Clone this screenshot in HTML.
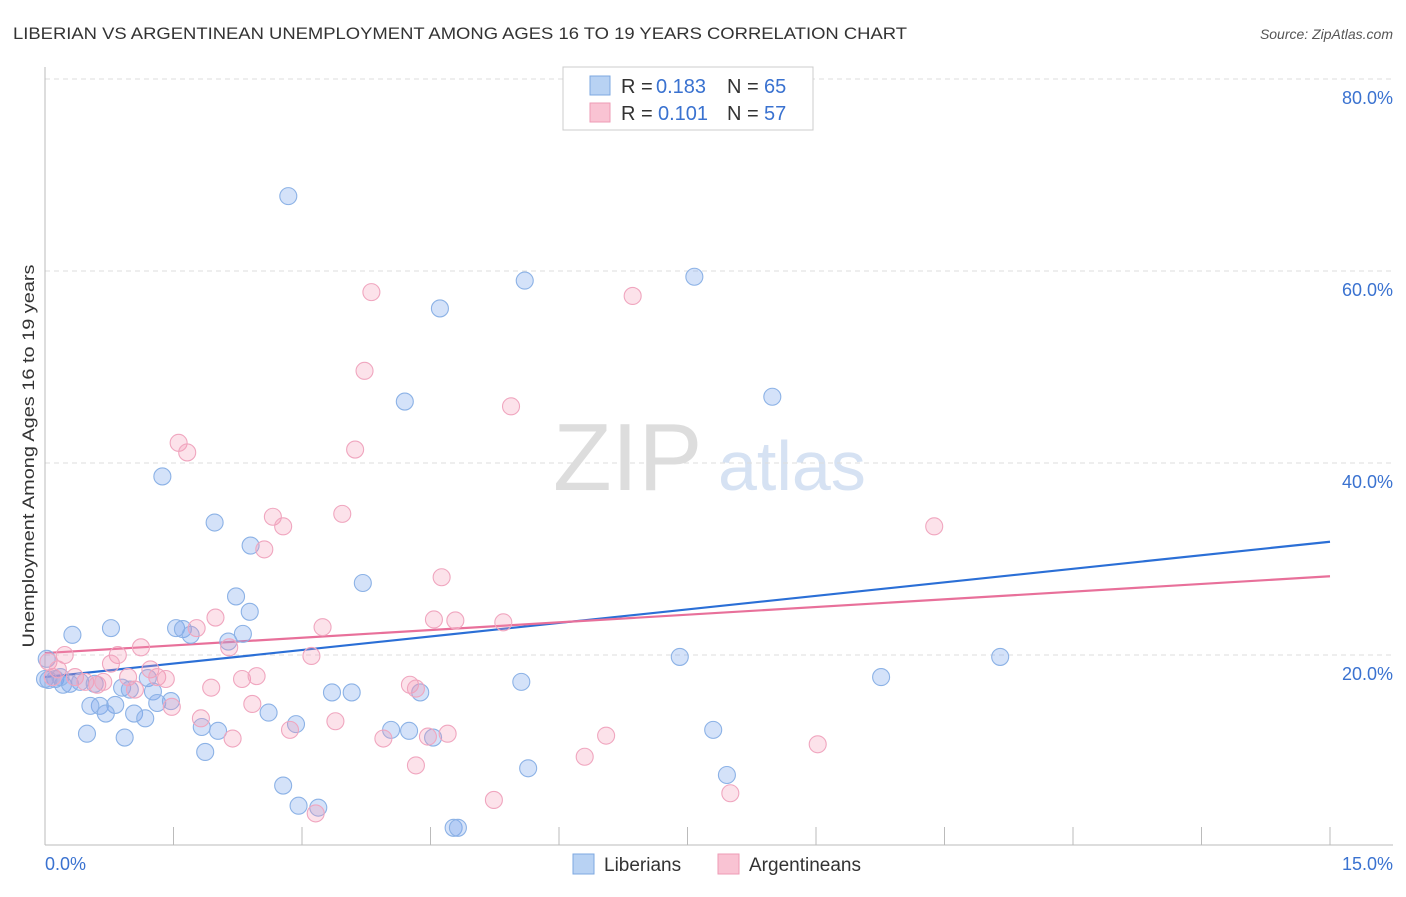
<!DOCTYPE html>
<html><head><meta charset="utf-8"><style>
body{margin:0;background:#fff;font-family:"Liberation Sans",sans-serif;}
svg text{font-family:"Liberation Sans",sans-serif;}
</style></head><body>
<svg id="chart" width="1406" height="892" xmlns="http://www.w3.org/2000/svg">
<text x="13" y="39" font-size="17" fill="#333" textLength="894" lengthAdjust="spacingAndGlyphs">LIBERIAN VS ARGENTINEAN UNEMPLOYMENT AMONG AGES 16 TO 19 YEARS CORRELATION CHART</text>
<text x="1393" y="39" font-size="14" fill="#555" text-anchor="end" font-style="italic">Source: ZipAtlas.com</text>
<text x="553" y="490" font-size="96" fill="#ddd" font-family="Liberation Serif">ZIP</text>
<text x="718" y="490" font-size="70" fill="#d6e2f3">atlas</text>
<g id="grid"></g>
<g id="axes"></g>
<g id="lines"></g>
<g id="pts"></g>
<text transform="translate(34,456) rotate(-90)" font-size="17" fill="#333" text-anchor="middle" textLength="383" lengthAdjust="spacingAndGlyphs">Unemployment Among Ages 16 to 19 years</text>
<g>
<rect x="563" y="67" width="250" height="63" fill="#fff" stroke="#ccc"/>
<rect x="590" y="76" width="20" height="19" fill="#b8d2f3" stroke="#7ea8e0"/>
<rect x="590" y="103" width="20" height="19" fill="#f9c3d3" stroke="#ee9bb6"/>
<text x="621" y="93" font-size="20" fill="#333">R =</text><text x="656" y="93" font-size="20" fill="#3a72d0">0.183</text>
<text x="727" y="93" font-size="20" fill="#333">N =</text><text x="764" y="93" font-size="20" fill="#3a72d0">65</text>
<text x="621" y="120" font-size="20" fill="#333">R =</text><text x="658" y="120" font-size="20" fill="#3a72d0">0.101</text>
<text x="727" y="120" font-size="20" fill="#333">N =</text><text x="764" y="120" font-size="20" fill="#3a72d0">57</text>
</g>
<g>
<rect x="573" y="854" width="21" height="20" fill="#b8d2f3" stroke="#7ea8e0"/>
<text x="604" y="871" font-size="19" fill="#333">Liberians</text>
<rect x="718" y="854" width="21" height="20" fill="#f9c3d3" stroke="#ee9bb6"/>
<text x="749" y="871" font-size="19" fill="#333">Argentineans</text>
</g>
</svg>
<script>
const xTicks=[0,1.5,3,4.5,6,7.5,9,10.5,12,13.5,15];
const yTicks=[20,40,60,80];
const yTickLabels=["20.0%","40.0%","60.0%","80.0%"];
const libX=[2.84,5.6,7.58,4.61,4.2,8.49,1.37,1.98,2.4,2.23,2.39,3.71,0.32,0.77,1.53,1.61,1.7,2.14,2.31,7.41,11.15,9.76,5.56,3.35,3.58,4.38,0.02,0.12,0.21,0.41,0.58,0.9,0.99,1.2,1.26,1.31,1.47,0.64,0.53,0.82,0.71,1.04,1.17,0.49,0.93,1.83,2.02,2.61,2.93,4.04,4.25,4.53,7.8,1.87,2.78,2.96,3.19,5.64,7.96,4.77,4.82,0.0,0.29,0.18,0.04];
const libY=[67.8,59.0,59.4,56.1,46.4,46.9,38.6,33.8,31.4,26.1,24.5,27.5,22.1,22.8,22.8,22.7,22.1,21.4,22.2,19.8,19.8,17.7,17.2,16.1,16.1,16.1,19.6,17.5,16.9,17.2,17.0,16.6,16.4,17.6,16.2,15.0,15.2,14.7,14.7,14.8,13.9,13.9,13.4,11.8,11.4,12.5,12.1,14.0,12.8,12.2,12.1,11.4,12.2,9.9,6.4,4.3,4.1,8.2,7.5,2.0,2.0,17.5,17.0,17.7,17.4];
const argX=[3.81,6.86,3.73,5.44,1.56,1.66,3.62,3.47,2.66,2.78,2.56,10.38,4.63,1.99,4.54,4.79,5.35,3.24,1.77,2.15,1.12,0.85,0.23,3.11,0.77,1.23,0.04,0.09,0.15,0.35,0.47,0.61,0.68,0.97,1.05,1.31,1.41,1.48,1.94,2.3,2.47,2.42,4.26,4.33,1.82,2.86,3.39,2.19,3.95,4.47,4.7,6.55,6.3,9.02,4.33,5.24,8.0,3.16];
const argY=[57.8,57.4,49.6,45.9,42.1,41.1,41.4,34.7,34.4,33.4,31.0,33.4,28.1,23.9,23.7,23.6,23.4,22.9,22.8,20.8,20.8,20.0,20.0,19.9,19.1,18.5,19.3,17.7,18.5,17.7,17.2,16.9,17.2,17.7,16.4,17.7,17.5,14.6,16.6,17.5,17.8,14.9,16.9,16.5,13.4,12.2,13.1,11.3,11.3,11.5,11.8,11.6,9.4,10.7,8.5,4.9,5.6,3.5];
const libTrend=[17.7,31.8];
const argTrend=[20.2,28.2];
const NS="http://www.w3.org/2000/svg";
const X0=45,X1=1330,Y0=847,PY=9.6;
function sx(v){return X0+(X1-X0)*v/15;}
function sy(v){return Y0-v*PY;}
function mk(tag,attrs,parent){const e=document.createElementNS(NS,tag);for(const k in attrs)e.setAttribute(k,attrs[k]);parent.appendChild(e);return e;}
const grid=document.getElementById('grid'),axes=document.getElementById('axes'),lines=document.getElementById('lines'),pts=document.getElementById('pts');
yTicks.forEach((t,i)=>{
 const l=mk('line',{x1:X0,x2:1393,y1:sy(t),y2:sy(t),stroke:'#ddd','stroke-dasharray':'5,4'},grid);
 
 
 const tx=mk('text',{x:1393,y:sy(t)+25,'font-size':18,fill:'#3a72d0','text-anchor':'end'},grid);
 tx.textContent=yTickLabels[i];
 
 
});
const ax=mk('line',{x1:X0,x2:1393,y1:845,y2:845,stroke:'#bbb'},axes);


const ay=mk('line',{x1:X0,x2:X0,y1:67,y2:845,stroke:'#bbb'},axes);


xTicks.forEach(t=>{
 const l=mk('line',{x1:sx(t),x2:sx(t),y1:827,y2:845,stroke:'#bbb'},axes);
 
 
});
const xl0=mk('text',{x:45,y:870,'font-size':18,fill:'#3a72d0'},axes);xl0.textContent='0.0%';


const xl1=mk('text',{x:1393,y:870,'font-size':18,fill:'#3a72d0','text-anchor':'end'},axes);xl1.textContent='15.0%';


function dots(xs,ys,fill,stroke,name){xs.forEach((x,i)=>{
 const c=mk('circle',{cx:sx(x),cy:sy(ys[i]),r:8.5,fill:fill,stroke:stroke,'stroke-width':1.1},pts);
 
 
});}
dots(libX,libY,'rgba(120,165,235,0.32)','#8cb2e6','liberian-point');
dots(argX,argY,'rgba(245,150,180,0.28)','#f0a6bf','argentinean-point');
const bl=mk('line',{x1:sx(0),y1:sy(libTrend[0]),x2:sx(15),y2:sy(libTrend[1]),stroke:'#2b6fd6','stroke-width':2.2},lines);


const pl=mk('line',{x1:sx(0),y1:sy(argTrend[0]),x2:sx(15),y2:sy(argTrend[1]),stroke:'#e8709a','stroke-width':2.2},lines);


</script>
</body></html>
